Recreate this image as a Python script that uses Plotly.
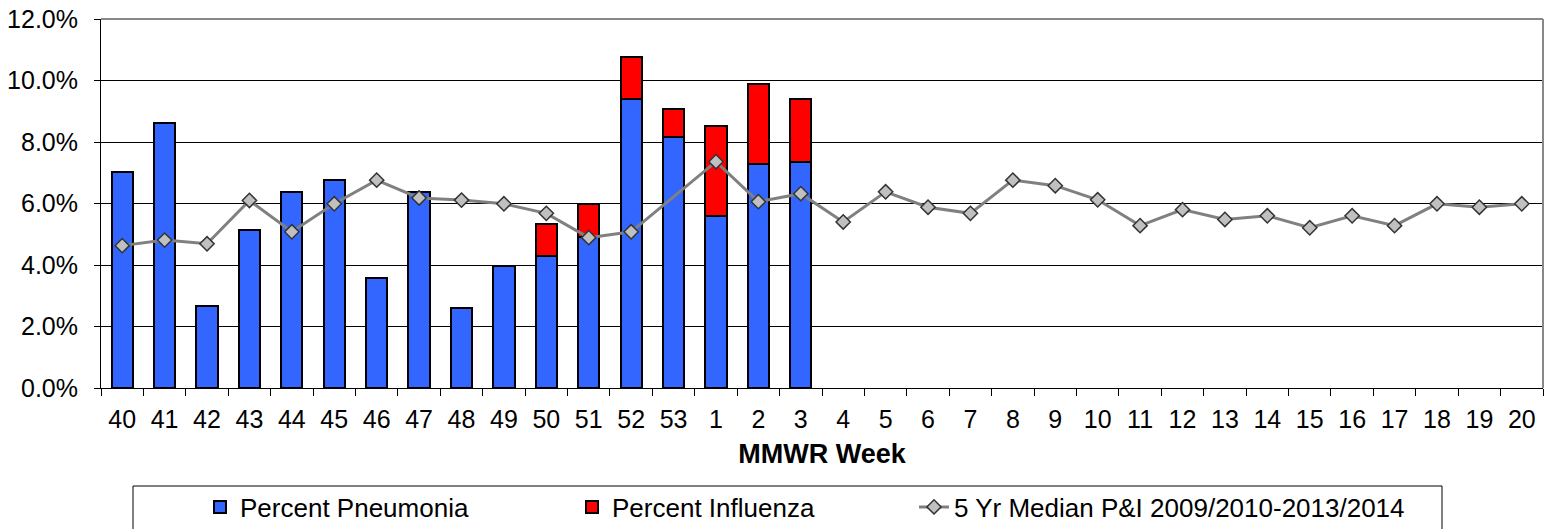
import plotly.graph_objects as go

weeks = ["40", "41", "42", "43", "44", "45", "46", "47", "48", "49", "50", "51", "52", "53",
         "1", "2", "3", "4", "5", "6", "7", "8", "9", "10", "11", "12", "13", "14", "15",
         "16", "17", "18", "19", "20"]

pneumonia = [7.03, 8.61, 2.68, 5.15, 6.37, 6.77, 3.59, 6.38, 2.59, 3.98, 4.29, 4.92, 9.39, 8.15,
             5.59, 7.28, 7.34] + [None] * 17

influenza = [None] * 10 + [1.04, 1.07, 1.36, 0.92, 2.94, 2.62, 2.05] + [None] * 17

median_pi = [4.63, 4.81, 4.69, 6.10, 5.08, 5.99, 6.76, 6.18, 6.11, 5.99, 5.68, 4.89, 5.08, None,
             7.36, 6.06, 6.32, 5.40, 6.38, 5.88, 5.68, 6.76, 6.58, 6.12, 5.28, 5.80, 5.48, 5.60,
             5.21, 5.60, 5.28, 5.99, 5.88, 5.99]

y_ticks = [0, 2, 4, 6, 8, 10, 12]
y_ticktext = [f"{v:.1f}%" for v in y_ticks]

FONT = "Liberation Sans, Arial, sans-serif"
W, H = 1558, 529
ML, MR, MT, MB = 101, 15, 19, 141

fig = go.Figure()
fig.add_trace(go.Bar(
    x=weeks, y=pneumonia, name="Percent Pneumonia",
    marker=dict(color="#3366FF", line=dict(color="black", width=2)),
    legend="legend", showlegend=True,
))
fig.add_trace(go.Bar(
    x=weeks, y=influenza, name="Percent Influenza",
    marker=dict(color="#FF0000", line=dict(color="black", width=2)),
    legend="legend2", showlegend=True,
))
fig.add_trace(go.Scatter(
    x=weeks, y=median_pi, name="5 Yr Median P&I 2009/2010-2013/2014",
    mode="lines+markers", connectgaps=True,
    line=dict(color="#808080", width=3),
    marker=dict(symbol="diamond", size=11, color="#C0C0C0",
                line=dict(color="#333333", width=1.5)),
    legend="legend3", showlegend=True,
))

PW = W - ML - MR
PH = H - MT - MB

def px_x(p):
    return (p - ML) / PW

def px_y(p):
    return (H - MB - p) / PH

def cx(p):
    return p / W

def cy(p):
    return 1 - p / H

leg_common = dict(orientation="h", yanchor="middle", xanchor="left",
                  xref="container", yref="container",
                  bgcolor="rgba(0,0,0,0)", borderwidth=0,
                  font=dict(family=FONT, size=26, color="black"))

fig.update_layout(
    template="none",
    width=W, height=H, autosize=False,
    margin=dict(l=ML, r=MR, t=MT, b=MB, pad=0),
    paper_bgcolor="white", plot_bgcolor="white",
    font=dict(family=FONT, size=25, color="black"),
    showlegend=True,
    barmode="stack", bargap=0.5,
    legend=dict(x=cx(200), y=cy(507), **leg_common),
    legend2=dict(x=cx(572), y=cy(507), **leg_common),
    legend3=dict(x=cx(914), y=cy(507), **leg_common),
    xaxis=dict(
        type="category", range=[-0.5, 33.5], automargin=False,
        showline=True, linecolor="black", linewidth=1,
        ticks="outside", tickson="boundaries", ticklen=7, tickcolor="black", tickwidth=1,
        showgrid=False, zeroline=False,
        ticklabelstandoff=9,
        tickfont=dict(family=FONT, size=25, color="black"),
        title=dict(text="<b>MMWR Week</b>", font=dict(family=FONT, size=27, color="black"),
                   standoff=12),
    ),
    yaxis=dict(
        range=[0, 12], tickvals=y_ticks, ticktext=y_ticktext, automargin=False,
        showline=True, linecolor="black", linewidth=1,
        ticks="outside", ticklen=6, tickcolor="black", tickwidth=1,
        showgrid=True, gridcolor="black", gridwidth=1,
        zeroline=False, ticklabelstandoff=11,
        tickfont=dict(family=FONT, size=25, color="black"),
    ),
    shapes=[
        dict(type="line", xref="paper", yref="paper", x0=0, x1=1, y0=1, y1=1,
             line=dict(color="#888888", width=2)),
        dict(type="line", xref="paper", yref="paper", x0=1, x1=1, y0=0, y1=1,
             line=dict(color="#888888", width=2)),
        dict(type="rect", xref="paper", yref="paper",
             x0=px_x(133), x1=px_x(1442), y0=px_y(486), y1=px_y(532),
             line=dict(color="black", width=1), fillcolor="rgba(0,0,0,0)"),
    ],
)

fig.write_html("out.html", config={"displayModeBar": False},
               post_script="document.body.style.margin='0';")
